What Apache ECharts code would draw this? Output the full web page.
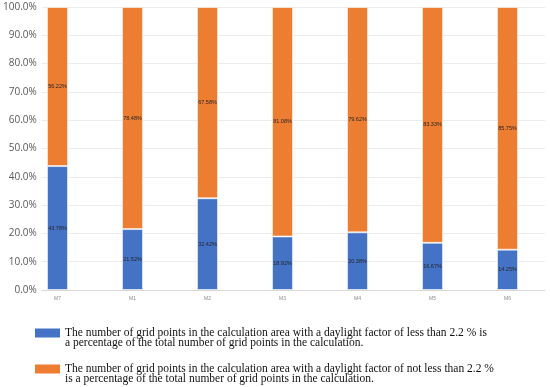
<!DOCTYPE html>
<html>
<head>
<meta charset="utf-8">
<script src="https://cdn.jsdelivr.net/npm/echarts@6/dist/echarts.min.js"></script>
<style>html,body{margin:0;padding:0;background:#fff}#c{width:550px;height:387px}</style>
</head>
<body>
<div id="c"></div>
<script>
var categories = ['M7', 'M1', 'M2', 'M3', 'M4', 'M5', 'M6'];
var lessValues = [43.78, 21.52, 32.42, 18.92, 20.38, 16.67, 14.25];
var notLessValues = [56.22, 78.48, 67.58, 81.08, 79.62, 83.33, 85.75];
var yTicks = [0, 10, 20, 30, 40, 50, 60, 70, 80, 90, 100];
var nameLess = 'The number of grid points in the calculation area with a daylight factor of less than 2.2 % is\na percentage of the total number of grid points in the calculation.';
var nameNotLess = 'The number of grid points in the calculation area with a daylight factor of not less than 2.2 %\nis a percentage of the total number of grid points in the calculation.';
var colorLess = '#4472C4';
var colorNotLess = '#ED7D31';

function iconFor(color) {
  var svg = '<svg xmlns="http://www.w3.org/2000/svg" width="25" height="20" viewBox="0 0 25 20" preserveAspectRatio="none">' +
    '<rect x="0" y="0.5" width="25" height="9" fill="' + color + '"/></svg>';
  return 'image://data:image/svg+xml;charset=utf-8,' + encodeURIComponent(svg);
}

var chart = echarts.init(document.getElementById('c'), null, {renderer: 'canvas'});
var lbl = {show: true, position: 'inside', fontSize: 5.5, color: '#262626',
  fontFamily: 'Liberation Sans', formatter: function (p) { return p.value.toFixed(2) + '%'; }};
var legendText = {fontFamily: 'Liberation Serif', fontSize: 11.5, lineHeight: 10, color: '#111'};
chart.setOption({
  animation: false,
  grid: [
    {left: 38, right: 5, top: 7, bottom: 97},
    {left: 20, right: 5, top: 7, bottom: 97}
  ],
  xAxis: [
    {gridIndex: 0, type: 'category', data: categories,
      axisLine: {show: true, lineStyle: {color: '#d9d9d9'}}, axisTick: {show: false}, axisLabel: {show: false}},
    {gridIndex: 1, type: 'category', data: categories,
      axisLine: {show: false}, axisTick: {show: false},
      axisLabel: {fontSize: 5, color: '#8c8c8c', margin: 6, fontFamily: 'Liberation Sans'}}
  ],
  yAxis: [
    {gridIndex: 0, type: 'value', min: yTicks[0], max: yTicks[yTicks.length - 1], interval: 10,
      axisLine: {show: false}, axisTick: {show: false},
      axisLabel: {fontSize: 10, color: '#595959', margin: 5, fontFamily: 'Open Sans',
        formatter: function (v) { return v.toFixed(1) + '%'; }},
      splitLine: {lineStyle: {color: '#ececec'}}},
    {gridIndex: 1, type: 'value', min: 0, max: 100, show: false}
  ],
  legend: [
    {orient: 'vertical', left: 35, top: 327, padding: 0, itemWidth: 25, itemHeight: 20,
      textStyle: legendText, data: [{name: nameLess, icon: iconFor(colorLess)}]},
    {orient: 'vertical', left: 35, top: 363, padding: 0, itemWidth: 25, itemHeight: 20,
      textStyle: legendText, data: [{name: nameNotLess, icon: iconFor(colorNotLess)}]}
  ],
  series: [
    {name: nameLess, type: 'bar', stack: 's', xAxisIndex: 1, yAxisIndex: 1, barWidth: 21,
      data: lessValues, label: lbl,
      itemStyle: {color: colorLess, borderColor: 'rgba(255,255,255,0.55)', borderWidth: 1}},
    {name: nameNotLess, type: 'bar', stack: 's', xAxisIndex: 1, yAxisIndex: 1, barWidth: 21,
      data: notLessValues, label: lbl,
      itemStyle: {color: colorNotLess, borderColor: 'rgba(255,255,255,0.55)', borderWidth: 1}}
  ]
});
</script>
</body>
</html>
